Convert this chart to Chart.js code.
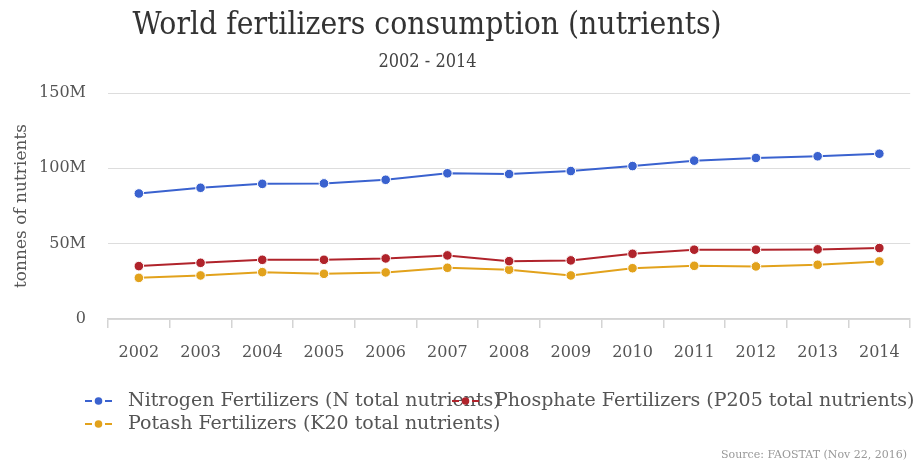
<!DOCTYPE html>
<html>
<head>
<meta charset="utf-8">
<script src="https://cdn.jsdelivr.net/npm/chart.js@4/dist/chart.umd.min.js"></script>
<style>
  html, body { margin: 0; padding: 0; background: #fff; }
  canvas { display: block; }
</style>
</head>
<body>
<canvas id="chart" width="916" height="464"></canvas>
<script>
// World fertilizer consumption, millions of tonnes of nutrients
const years = ['2002', '2003', '2004', '2005', '2006', '2007', '2008', '2009', '2010', '2011', '2012', '2013', '2014'];
const nitrogen  = [83.3, 87.1, 89.7, 90.0, 92.4, 96.7, 96.2, 98.2, 101.5, 105.1, 106.9, 108.0, 109.7];
const phosphate = [35.1, 37.3, 39.3, 39.3, 40.2, 42.2, 38.4, 38.9, 43.3, 46.0, 46.0, 46.2, 47.1];
const potash    = [27.3, 28.9, 31.1, 30.0, 30.9, 34.0, 32.7, 28.9, 33.7, 35.3, 34.9, 36.0, 38.2];
const seriesNames = [
  'Nitrogen Fertilizers (N total nutrients)',
  'Phosphate Fertilizers (P205 total nutrients)',
  'Potash Fertilizers (K20 total nutrients)'
];
const seriesColors = ['#3a62cf', '#b0232b', '#e2a21c'];
const yTicks = [0, 50, 100, 150];

const titleText = 'World fertilizers consumption (nutrients)';
const subtitleText = '2002 - 2014';
const sourceText = 'Source: FAOSTAT (Nov 22, 2016)';

Chart.defaults.font.family = "'DejaVu Serif', serif";
Chart.defaults.color = '#555';

function makeDataset(label, data, color) {
  return {
    label: label,
    data: data,
    borderColor: color,
    backgroundColor: color,
    pointBackgroundColor: color,
    pointBorderColor: '#ffffff',
    pointBorderWidth: 1,
    pointRadius: 4.8,
    pointHoverRadius: 4.8,
    borderWidth: 2,
    tension: 0,
    fill: false
  };
}

// Headings, legend and source note drawn onto the canvas
const decorations = {
  id: 'decorations',
  afterDraw(chart) {
    const ctx = chart.ctx;
    ctx.save();
    ctx.textBaseline = 'middle';

    ctx.fillStyle = '#333';
    ctx.textAlign = 'center';
    ctx.font = "31.5px 'DejaVu Serif Condensed', 'DejaVu Serif', serif";
    ctx.fillText(titleText, 427, 26);

    ctx.fillStyle = '#444';
    ctx.font = "18px 'DejaVu Serif Condensed', 'DejaVu Serif', serif";
    ctx.fillText(subtitleText, 427.5, 62);

    // legend entries: dashed line with a dot, then the series name
    const slots = [[85, 401], [452, 401], [85, 424]];
    chart.data.datasets.forEach((ds, i) => {
      const [x, y] = slots[i];
      ctx.strokeStyle = ds.borderColor;
      ctx.lineWidth = 2;
      ctx.beginPath();
      ctx.moveTo(x, y); ctx.lineTo(x + 7, y);
      ctx.moveTo(x + 20, y); ctx.lineTo(x + 27, y);
      ctx.stroke();
      ctx.fillStyle = ds.borderColor;
      ctx.beginPath();
      ctx.arc(x + 13.5, y, 3.8, 0, Math.PI * 2);
      ctx.fill();
      ctx.fillStyle = '#555';
      ctx.textAlign = 'left';
      ctx.font = "19px 'DejaVu Serif', serif";
      ctx.fillText(ds.label, x + 43, y);
    });

    ctx.fillStyle = '#999';
    ctx.textAlign = 'right';
    ctx.font = "11px 'DejaVu Serif', serif";
    ctx.fillText(sourceText, 907, 455);
    ctx.restore();
  }
};

new Chart(document.getElementById('chart'), {
  type: 'line',
  data: {
    labels: years,
    datasets: [
      makeDataset(seriesNames[0], nitrogen, seriesColors[0]),
      makeDataset(seriesNames[1], phosphate, seriesColors[1]),
      makeDataset(seriesNames[2], potash, seriesColors[2])
    ]
  },
  options: {
    responsive: false,
    animation: false,
    devicePixelRatio: 1,
    layout: { padding: { top: 93, right: 3, left: 0, bottom: 0 } },
    plugins: {
      legend: { display: false },
      title: { display: false },
      tooltip: { enabled: false }
    },
    scales: {
      x: {
        offset: true,
        grid: {
          offset: true,
          drawOnChartArea: false,
          drawTicks: true,
          tickLength: 9,
          color: '#d4d4d4',
          lineWidth: 1.5
        },
        border: { display: true, color: '#d4d4d4', width: 1.5 },
        ticks: { font: { size: 16 }, color: '#555', padding: 15, maxRotation: 0 },
        afterFit(scale) { scale.height = 145; }
      },
      y: {
        min: 0,
        max: 150,
        afterBuildTicks(scale) { scale.ticks = yTicks.map(v => ({ value: v })); },
        grid: { drawTicks: false, color: '#dddddd', lineWidth: 1 },
        border: { display: false },
        ticks: {
          font: { size: 16 },
          color: '#555',
          padding: 22,
          callback: v => (v === 0 ? '0' : v + 'M')
        },
        title: {
          display: true,
          text: 'tonnes of nutrients',
          font: { size: 17 },
          color: '#555',
          padding: { top: 11, bottom: 0 }
        },
        afterFit(scale) { scale.width = 108; }
      }
    }
  },
  plugins: [decorations]
});
</script>
</body>
</html>
